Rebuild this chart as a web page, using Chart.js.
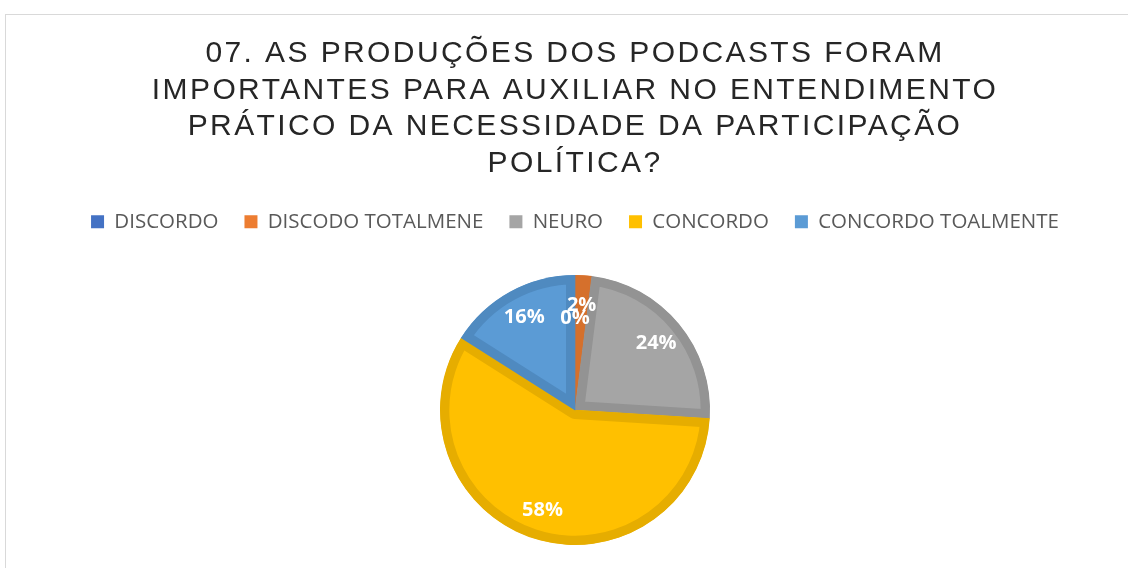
<!DOCTYPE html>
<html>
<head>
<meta charset="utf-8">
<script src="https://cdn.jsdelivr.net/npm/chart.js@4/dist/chart.umd.min.js"></script>
<style>
  html, body { margin: 0; padding: 0; background: #fff; overflow: hidden; }
  body { width: 1128px; height: 568px; position: relative; }
  #frame {
    position: absolute; left: 5px; top: 14px;
    width: 1140px; height: 600px;
    border-left: 1px solid #d9d9d9; border-top: 1px solid #d9d9d9;
  }
  #wrap { position: absolute; left: 0; top: 0; width: 1138px; height: 530px; }
</style>
</head>
<body>
<div id="frame">
  <div id="wrap"><canvas id="pieChart"></canvas></div>
</div>
<script>
const titleLines = [
    '07. AS PRODUÇÕES DOS PODCASTS FORAM',
    'IMPORTANTES PARA AUXILIAR NO ENTENDIMENTO',
    'PRÁTICO DA NECESSIDADE DA PARTICIPAÇÃO',
    'POLÍTICA?'
];
const categories = ['DISCORDO', 'DISCODO TOTALMENE', 'NEURO', 'CONCORDO', 'CONCORDO TOALMENTE'];
const percentages = [0, 2, 24, 58, 16];

const fillColors = ['#4472C4', '#ED7D31', '#A5A5A5', '#FFC000', '#5B9BD5'];
const edgeColors = ['#3D67B1', '#D5702C', '#939393', '#E6AD00', '#4F8AC0'];

// spaced-out title and extra room under the legend, like the Excel original
const boxTweaks = {
    id: 'boxTweaks',
    beforeLayout(chart) {
        if (chart.legend && !chart.legend._patched) {
            const fit = chart.legend.fit;
            chart.legend.fit = function() {
                fit.call(this);
                this.height += 33;
            };
            chart.legend._patched = true;
        }
        if (chart.titleBlock && !chart.titleBlock._patched) {
            const draw = chart.titleBlock.draw;
            chart.titleBlock.draw = function() {
                chart.ctx.save();
                chart.ctx.letterSpacing = '2.4px';
                draw.apply(this, arguments);
                chart.ctx.restore();
            };
            chart.titleBlock._patched = true;
        }
    }
};

// white percentage labels inside the slices
const sliceLabels = {
    id: 'sliceLabels',
    afterDatasetsDraw(chart) {
        const ctx = chart.ctx;
        const meta = chart.getDatasetMeta(0);
        ctx.save();
        ctx.font = 'bold 20px "Open Sans"';
        ctx.fillStyle = '#ffffff';
        ctx.textAlign = 'center';
        ctx.textBaseline = 'middle';
        meta.data.forEach(function(arc, i) {
            const p = arc.getProps(['x', 'y', 'startAngle', 'endAngle', 'outerRadius'], true);
            const mid = (p.startAngle + p.endAngle) / 2;
            const f = percentages[i] === 0 ? 0.68 : 0.78;
            const x = p.x + Math.cos(mid) * p.outerRadius * f;
            const y = p.y + Math.sin(mid) * p.outerRadius * f;
            ctx.fillText(percentages[i] + '%', x, y);
        });
        ctx.restore();
    }
};

const ctx = document.getElementById('pieChart').getContext('2d');
new Chart(ctx, {
    type: 'pie',
    data: {
        labels: categories,
        datasets: [{
            data: percentages,
            backgroundColor: fillColors,
            borderColor: edgeColors,
            borderWidth: 9,
            borderAlign: 'inner',
            hoverBorderWidth: 9,
            hoverOffset: 0
        }]
    },
    options: {
        responsive: true,
        maintainAspectRatio: false,
        animation: false,
        events: [],
        layout: { padding: 0 },
        plugins: {
            title: {
                display: true,
                text: titleLines,
                color: '#262626',
                font: { family: '"Liberation Sans", Arial, sans-serif', size: 30, weight: 'normal', lineHeight: 36.5 / 30 },
                padding: { top: 20.5, bottom: 4 }
            },
            legend: {
                position: 'top',
                labels: {
                    color: '#595959',
                    font: { family: '"Open Sans", sans-serif', size: 20.5 },
                    boxWidth: 13,
                    boxHeight: 13,
                    padding: 26,
                    generateLabels(chart) {
                        const items = Chart.overrides.pie.plugins.legend.labels.generateLabels(chart);
                        items.forEach(function(item) { item.lineWidth = 0; });
                        return items;
                    }
                }
            },
            tooltip: { enabled: false }
        }
    },
    plugins: [boxTweaks, sliceLabels]
});
</script>
</body>
</html>
